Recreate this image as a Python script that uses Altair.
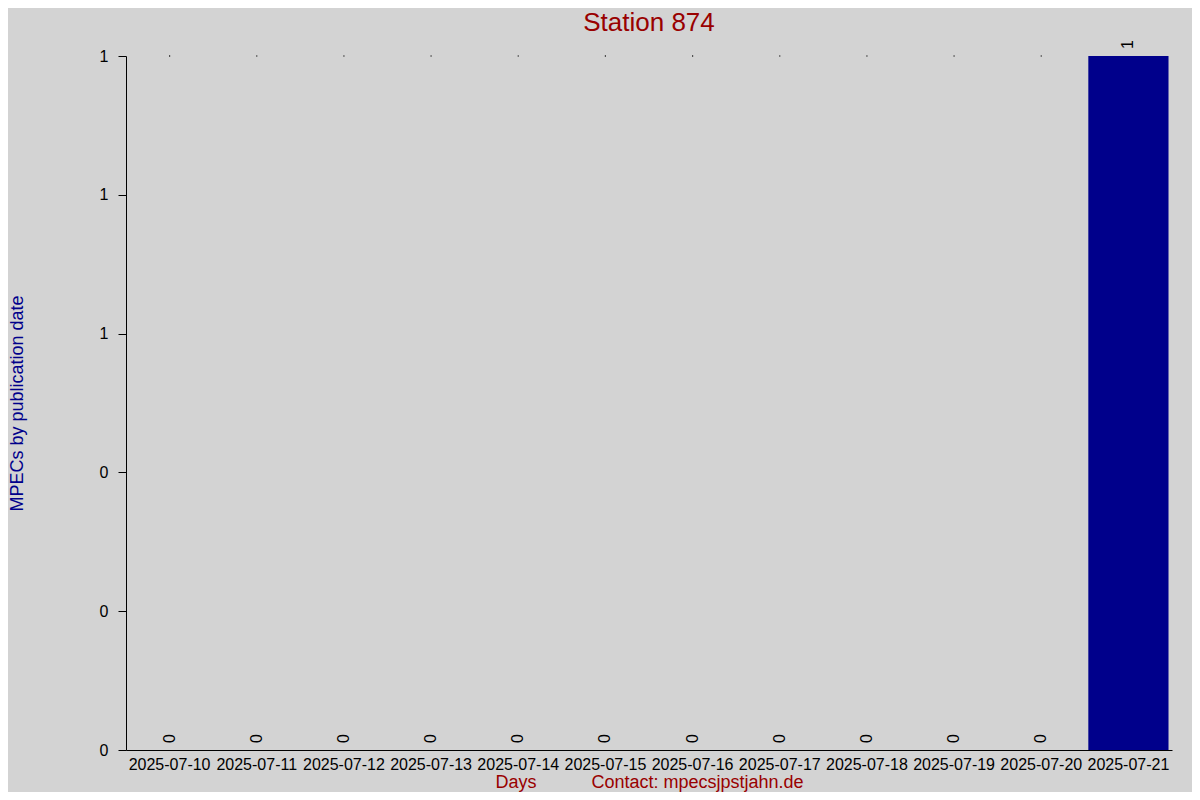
import altair as alt
import pandas as pd

days = ["2025-07-10", "2025-07-11", "2025-07-12", "2025-07-13", "2025-07-14",
        "2025-07-15", "2025-07-16", "2025-07-17", "2025-07-18", "2025-07-19",
        "2025-07-20", "2025-07-21"]
counts = [0, 0, 0, 0, 0, 0, 0, 0, 0, 0, 0, 1]
y_ticks = [0, 0.2, 0.4, 0.6, 0.8, 1.0]
chart_title = "Station 874"

df = pd.DataFrame({"day": days, "count": counts})

FONT = "Liberation Sans"
BAR = "#00008B"
RED = "#990000"
title_x = "Days" + "\u00a0" * 11 + "Contact: mpecsjpstjahn.de"

xenc = alt.X("day:N", sort=days,
             scale=alt.Scale(paddingInner=0.08, paddingOuter=0.04),
             axis=alt.Axis(title=title_x, labelAngle=0, ticks=False,
                           labelFontSize=16, labelColor="black", labelPadding=6,
                           labelFont=FONT, titleFont=FONT, titleFontSize=18,
                           titleFontWeight="normal", titleColor=RED,
                           titleX=523, titleY=37, titleAlign="center",
                           titleBaseline="alphabetic",
                           domainColor="black", domainWidth=1, grid=False))
yscale = alt.Scale(domain=[0, 1], nice=False)

bars = alt.Chart(df).mark_bar(color=BAR).encode(
    x=xenc,
    y=alt.Y("count:Q", scale=yscale,
            axis=alt.Axis(title="MPECs by publication date", values=y_ticks,
                          format=".0f", tickSize=8, tickColor="black",
                          labelFontSize=16, labelColor="black", labelPadding=10,
                          labelFont=FONT, titleFont=FONT, titleFontSize=18,
                          titleFontWeight="normal", titleColor="#00008B",
                          titleAngle=270, titleX=-109, titleY=347,
                          titleAlign="center", titleBaseline="middle",
                          domainColor="black", domainWidth=1, grid=False)),
)

labels = alt.Chart(df).mark_text(angle=270, align="left", baseline="middle",
                                 dx=7, fontSize=16, font=FONT, color="black").encode(
    x=alt.X("day:N", sort=days),
    y=alt.Y("count:Q", scale=yscale),
    text=alt.Text("count:Q", format="d"),
)

dots = alt.Chart(df).transform_filter(alt.datum["count"] == 0).mark_square(
    size=1.5, color="black", opacity=1).encode(
    x=alt.X("day:N", sort=days),
    y=alt.datum(1),
)

title_mark = alt.Chart(pd.DataFrame({"t": [chart_title]})).mark_text(
    font=FONT, fontSize=26, color=RED, align="center", baseline="alphabetic"
).encode(
    text="t:N",
    x=alt.value(523),
    y=alt.value(-25),
)

chart = alt.layer(bars, dots, labels, title_mark).properties(
    width=1046, height=694,
    autosize=alt.AutoSizeParams(type="none"),
    padding={"left": 118, "top": 48, "right": 20, "bottom": 42},
    background="#D3D3D3",
).configure_view(stroke=None)

chart.save("out.html", embed_options={"renderer": "svg", "actions": False})
